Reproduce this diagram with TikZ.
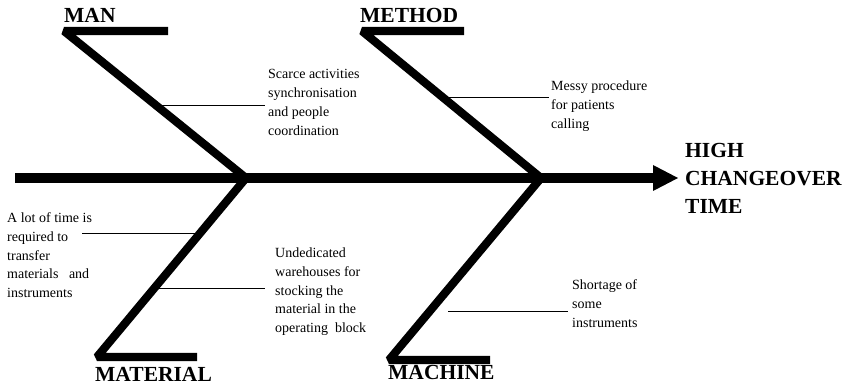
\documentclass[tikz,border=0pt]{standalone}
\usepackage{fontspec}
\setmainfont{Liberation Serif}
\usetikzlibrary{calc}
\begin{document}
\begin{tikzpicture}[x=1pt,y=-1pt,
  bone/.style={line width=8.2pt, line join=bevel, line cap=butt},
  spine/.style={line width=9.5pt, line cap=butt},
  cause/.style={line width=0.8pt},
  cat/.style={font=\fontsize{21.5}{28}\selectfont\bfseries, inner sep=0pt, anchor=base west, align=left},
  note/.style={font=\fontsize{14}{18.7}\selectfont, align=left, inner sep=0pt, anchor=base west}]
\useasboundingbox (0,0) rectangle (847,387);

% key points
\coordinate (S0) at (15,178);
\coordinate (S1) at (655,178);
\coordinate (J1) at (246,178);
\coordinate (J2) at (541,178);
\coordinate (manC) at (64,31);   \coordinate (manE) at (168,31);
\coordinate (metC) at (362,31);  \coordinate (metE) at (464,31);
\coordinate (matC) at (97,357);  \coordinate (matE) at (197,357);
\coordinate (macC) at (389,360); \coordinate (macE) at (490,360);

% spine and head
\draw[spine] (S0) -- (S1);
\fill (653,165) -- (678,178) -- (653,191) -- cycle;

% bones
\draw[bone] (manE) -- (manC) -- (J1);
\draw[bone] (metE) -- (metC) -- (J2);
\draw[bone] (J1) -- (matC) -- (matE);
\draw[bone] (J2) -- (macC) -- (macE);

% category labels (base anchor = baseline of last line)
\node[cat] (tMan) at (64,23) {MAN};
\node[cat] (tMet) at (360,23) {METHOD};
\node[cat] (tMat) at (95,382) {MATERIAL};
\node[cat] (tMac) at (388,380) {MACHINE};
\node[cat] (tEff) at (685,214) {HIGH\\CHANGEOVER\\TIME};

% cause texts (base anchor = baseline of last line)
\node[note] (nMan) at (268,135.1) {Scarce activities\\synchronisation\\and people\\coordination};
\node[note] (nMet) at (551,128.4) {Messy procedure\\for patients\\calling};
\node[note] (nMat1) at (7,297.5) {A lot of time is\\required to\\transfer\\materials\ \ \ and\\instruments};
\node[note] (nMat2) at (275,332.5) {Undedicated\\warehouses for\\stocking the\\material in the\\operating\ \ block};
\node[note] (nMac) at (572,327.4) {Shortage of\\some\\instruments};

% cause connectors
\coordinate (b1) at ($(manC)!0.503!(J1)$);
\coordinate (e1) at (265,105);
\draw[cause] (b1) -- (e1 |- b1);
\coordinate (b2) at ($(metC)!0.449!(J2)$);
\coordinate (e2) at (549,97);
\draw[cause] (b2) -- (e2 |- b2);
\coordinate (b3) at ($(J1)!0.307!(matC)$);
\coordinate (e3) at (82,233);
\draw[cause] (b3) -- (e3 |- b3);
\coordinate (b4) at ($(J1)!0.615!(matC)$);
\coordinate (e4) at (265,288);
\draw[cause] (b4) -- (e4 |- b4);
\coordinate (b5) at (448,311);
\coordinate (e5) at (568,311);
\draw[cause] (b5) -- (e5);
\end{tikzpicture}
\end{document}
